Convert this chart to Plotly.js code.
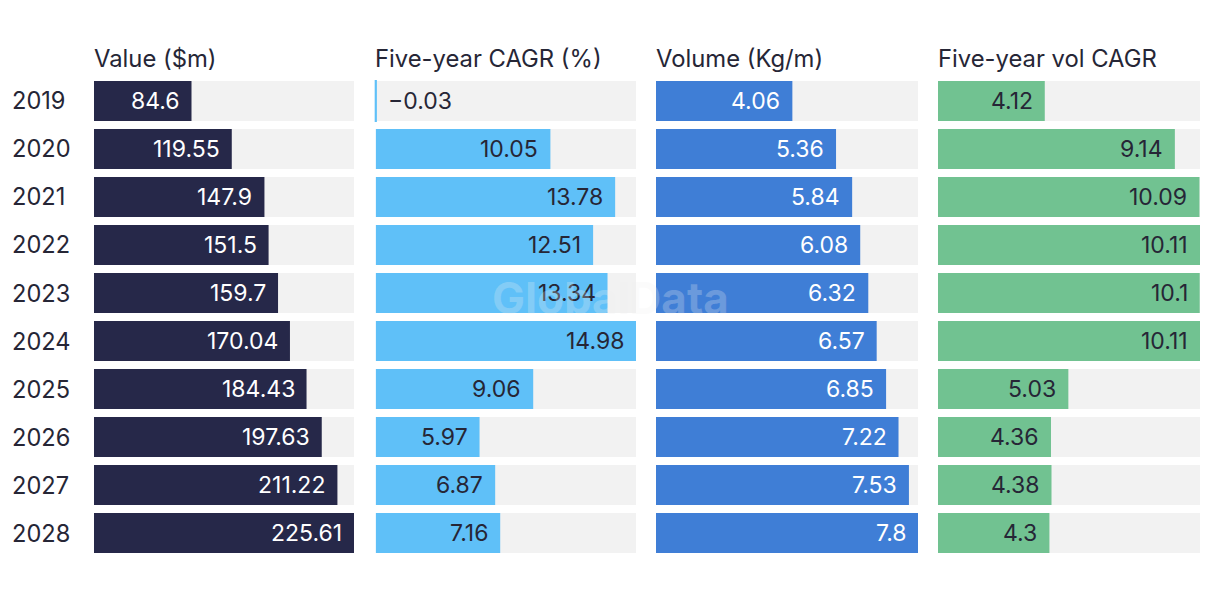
<!DOCTYPE html>
<html><head><meta charset="utf-8">
<script src="https://cdn.plot.ly/plotly-3.0.1.min.js"></script>
<style>html,body{margin:0;padding:0;background:#fff}#c{width:1220px;height:596px}</style>
</head><body><div id="c"></div>
<script>
const years = ['2019','2020','2021','2022','2023','2024','2025','2026','2027','2028'];
const valueM = [84.6,119.55,147.9,151.5,159.7,170.04,184.43,197.63,211.22,225.61];
const valueCagr = [-0.03,10.05,13.78,12.51,13.34,14.98,9.06,5.97,6.87,7.16];
const volume = [4.06,5.36,5.84,6.08,6.32,6.57,6.85,7.22,7.53,7.8];
const volCagr = [4.12,9.14,10.09,10.11,10.1,10.11,5.03,4.36,4.38,4.3];
const titles = ['Value ($m)','Five-year CAGR (%)','Volume (Kg/m)','Five-year vol CAGR'];
const seriesList = [valueM, valueCagr, volume, volCagr];
const colors = ['#262849','#5fc0f8','#3f7ed6','#71c291'];
const textColors = ['#ffffff','#262636','#ffffff','#262636'];
const W = 1220, H = 596;
const domainsPx = [[94,354],[374.5,636],[656,918],[938,1200]];
const FONT = 'Inter, "Noto Sans", sans-serif';

const traces = [], annotations = [];
const layout = {
  width: W, height: H, margin: {l:0,r:0,t:0,b:0},
  paper_bgcolor:'#fff', plot_bgcolor:'rgba(0,0,0,0)',
  barmode:'overlay', bargap: 8/48, showlegend:false,
  font:{family:FONT, color:'#262636'},
  yaxis: {
    domain:[1-557/H, 1-77/H], type:'category', categoryorder:'array', categoryarray: years,
    range:[years.length-0.5, -0.5], autorange:false, showgrid:false, zeroline:false, showline:false,
    showticklabels:false, ticks:'', anchor:'x', fixedrange:true
  },
  annotations: annotations
};

years.forEach((yr, k) => {
  annotations.push({xref:'paper', yref:'y', x: 12/W, y: k, xanchor:'left', xshift:-2,
    text: yr, showarrow:false, font:{size:23.6, family:FONT, color:'#262636'}});
});

seriesList.forEach((vals, i) => {
  const ax = i === 0 ? '' : String(i+1);
  const xa = 'x' + ax;
  const mx = Math.max(...vals);
  const mn = Math.min(0, ...vals);
  const d = domainsPx[i];
  const range = i === 1 ? [-0.08, mx] : [mn, mx];
  layout['xaxis' + ax] = {
    domain:[d[0]/W, d[1]/W], range: range, autorange:false, anchor:'y', showgrid:false, zeroline:false,
    showticklabels:false, showline:false, ticks:'', fixedrange:true
  };
  traces.push({type:'bar', orientation:'h', y: years, x: years.map(() => mx),
    xaxis: xa, yaxis:'y', marker:{color:'#f2f2f2'}, hoverinfo:'skip'});
  traces.push({type:'bar', orientation:'h', y: years, x: vals, xaxis: xa, yaxis:'y',
    marker:{color: colors[i], line:{color: colors[i], width: vals.map(v => v < 0 ? 2 : 0)}},
    hoverinfo:'skip'});
  vals.forEach((v, k) => {
    const neg = v < 0;
    annotations.push({
      xref: xa, yref:'y', x: neg ? 0 : v, y: k,
      xanchor: neg ? 'left' : 'right', xshift: neg ? 10 : -10,
      text: String(v).replace('-', '\u2212'), showarrow:false,
      font:{size:23, family:FONT, color: neg ? '#262636' : textColors[i]}
    });
  });
  annotations.push({xref:'paper', yref:'paper', x: d[0]/W, y: 1-58/H, xanchor:'left', yanchor:'middle', xshift:-2,
    text: titles[i], showarrow:false, font:{size:23.8, family:FONT, color:'#262636'}});
});

annotations.push({xref:'paper', yref:'paper', x: 610/W, y: 1-298/H, xanchor:'center', yanchor:'middle',
  text:'<b>GlobalData</b>', showarrow:false, font:{size:44, family:FONT, color:'rgba(240,240,240,0.25)'}});

Plotly.newPlot('c', traces, layout, {displayModeBar:false, staticPlot:true});
</script></body></html>
